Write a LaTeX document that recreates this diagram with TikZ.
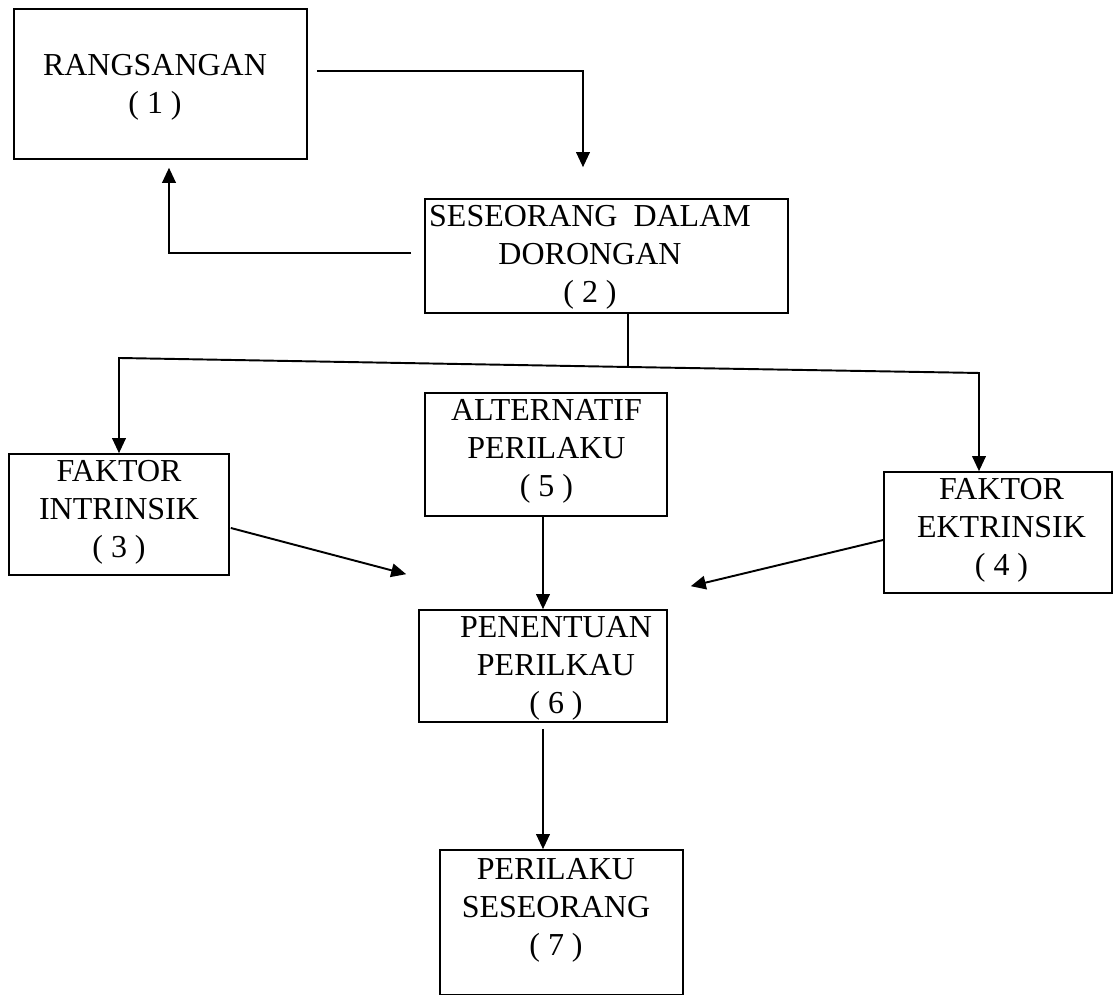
\documentclass[tikz,border=0pt]{standalone}
\usepackage{fontspec}
\setmainfont{Liberation Serif}
\usetikzlibrary{arrows.meta}

\begin{document}
\begin{tikzpicture}[
    box/.style={draw, line width=0.9pt, inner sep=0pt},
    lbl/.style={align=center, inner sep=0pt, font=\fontsize{18.2}{21.6}\selectfont},
    arr/.style={-{Triangle[length=0.3cm, width=0.27cm]}, line width=1.1pt}
]
\useasboundingbox (0,0) rectangle (22.3,19.9);

% Top row
\node[box, minimum width=5.86cm, minimum height=3cm] (rang) at (3.21,18.22) {};
\node[lbl] (rangTxt) at (3.1,18.16) {RANGSANGAN\\( 1 )};
\node[box, minimum width=7.26cm, minimum height=2.28cm] (dorong) at (12.13,14.78) {};
\node[lbl] (dorongTxt) at (11.8,14.75) {SESEORANG~~DALAM\\DORONGAN\\( 2 )};

% Middle row
\node[box, minimum width=4.4cm, minimum height=2.42cm] (intr) at (2.38,9.61) {};
\node[lbl] (intrTxt) at (2.38,9.65) {FAKTOR\\INTRINSIK\\( 3 )};
\node[box, minimum width=4.84cm, minimum height=2.46cm] (alt) at (10.92,10.81) {};
\node[lbl] (altTxt) at (10.93,10.87) {ALTERNATIF\\PERILAKU\\( 5 )};
\node[box, minimum width=4.56cm, minimum height=2.42cm] (ekst) at (19.96,9.25) {};
\node[lbl] (ekstTxt) at (20.03,9.29) {FAKTOR\\EKTRINSIK\\( 4 )};

% Bottom
\node[box, minimum width=4.96cm, minimum height=2.24cm] (pen) at (10.86,6.58) {};
\node[lbl] (penTxt) at (11.12,6.53) {PENENTUAN\\PERILKAU\\( 6 )};
\node[box, minimum width=4.86cm, minimum height=2.9cm] (per) at (11.23,1.45) {};
\node[lbl] (perTxt) at (11.12,1.70) {PERILAKU\\SESEORANG\\( 7 )};

% Loop between 1 and 2
\draw[arr] ([shift={(0.18,0.26)}]rang.east) -| ([shift={(-0.47,0.62)}]dorong.north);
\draw[arr] ([shift={(-0.26,0.06)}]dorong.west) -| ([shift={(0.17,-0.16)}]rang.south);

% Split to 3 and 4
\coordinate (split) at (12.56,12.56);
\coordinate (splitL) at (2.38,12.74);
\coordinate (splitR) at (19.58,12.44);
\draw[line width=1.1pt] (dorong.south -| split) -- (split);
\draw[arr] (split) -- (splitL) -- (intr.north);
\draw[arr] (split) -- (splitR) -- (ekst.north -| splitR);

% Into 6, then 7
\draw[arr] ([shift={(0.02,-0.27)}]intr.east) -- ([shift={(-0.24,0.70)}]pen.north west);
\draw[arr] ([yshift=-0.15cm]ekst.west) -- ([shift={(0.46,0.46)}]pen.north east);
\draw[arr] (alt.south -| pen.north) -- (pen.north);
\draw[arr] ([yshift=-0.12cm]pen.south) -- (pen.south |- per.north);
\end{tikzpicture}
\end{document}
